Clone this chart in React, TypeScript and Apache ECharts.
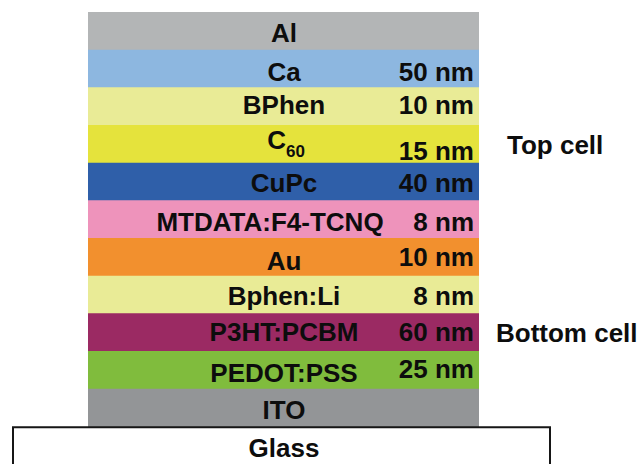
import React, { useEffect, useRef } from "react";
import * as echarts from "echarts";

// Layer stack, top to bottom
const layerNames = ["Al", "Ca", "BPhen", "C60", "CuPc", "MTDATA:F4-TCNQ", "Au", "Bphen:Li", "P3HT:PCBM", "PEDOT:PSS", "ITO", "Glass"];
const thicknessLabels = ["", "50 nm", "10 nm", "15 nm", "40 nm", "8 nm", "10 nm", "8 nm", "60 nm", "25 nm", "", ""];
const cellLabels = ["", "", "", "Top cell", "", "", "", "", "Bottom cell", "", "", ""];
const layerColors = ["#b3b5b6", "#8db7e0", "#e9eb96", "#e5e33c", "#2f5fa9", "#ee93bb", "#f2902e", "#e9eb96", "#9b2a63", "#80bc3d", "#939597", "#ffffff"];

// layout (style) constants
const STACK_LEFT = 88;
const STACK_RIGHT = 479;
const GLASS_LEFT = 13;
const GLASS_RIGHT = 550;
const NAME_CENTER = 284;
const THICK_RIGHT = 474;
const FS = 26;
const nameDx = [0, 0, 0, 2, 0, -14, 0, 0, 0, 0, 0, 0];
const nameDy = [2, 3, -1, -4, 1, 3, 4, 1, 0, 3, 2, 3];
const thickDy = [0, 3, -1, 7, 1, 3, 0, 1, 0, -1, 0, 0];
const cellX = [0, 0, 0, 507, 0, 0, 0, 0, 496, 0, 0, 0];

const FONT = "Liberation Sans, Arial, Helvetica, sans-serif";

export default function App() {
  const ref = useRef<HTMLDivElement>(null);
  useEffect(() => {
    document.body.style.margin = "0";
    const chart = echarts.init(ref.current!, null, { renderer: "svg" });
    const textStyle = { fontSize: FS, fontWeight: "bold", fontFamily: FONT, fill: "#0d0d0d" };
    const renderItem = (params: any, api: any) => {
      const i = api.value(1);
      const isGlass = i === layerNames.length - 1;
      const left = isGlass ? GLASS_LEFT : STACK_LEFT;
      const right = isGlass ? GLASS_RIGHT : STACK_RIGHT;
      const [xl, yc] = api.coord([left, i]);
      const [xr] = api.coord([right, i]);
      const h = api.size([0, 1])[1];
      const top = yc - h / 2;
      const children: any[] = [];
      children.push({
        type: "rect",
        shape: { x: xl, y: isGlass ? top + 1 : top, width: xr - xl, height: isGlass ? h + 12 : h + 0.6 },
        style: isGlass
          ? { fill: "#ffffff", stroke: "#161616", lineWidth: 2 }
          : { fill: layerColors[i] },
      });
      const [nx] = api.coord([NAME_CENTER + nameDx[i], i]);
      const name = layerNames[i];
      if (name === "C60") {
        children.push({
          type: "text",
          style: {
            text: "{n|C}{s|60}",
            x: nx,
            y: yc + nameDy[i],
            align: "center",
            verticalAlign: "middle",
            rich: {
              n: { fontSize: FS, fontWeight: "bold", fontFamily: FONT, fill: "#0d0d0d", lineHeight: 30 },
              s: { fontSize: 17, fontWeight: "bold", fontFamily: FONT, fill: "#0d0d0d", lineHeight: 30, padding: [24, 0, 0, 0] },
            },
          },
        });
      } else {
        children.push({
          type: "text",
          style: { ...textStyle, text: name, x: nx, y: yc + nameDy[i], align: "center", verticalAlign: "middle" },
        });
      }
      if (thicknessLabels[i]) {
        const [tx] = api.coord([THICK_RIGHT, i]);
        children.push({
          type: "text",
          style: { ...textStyle, text: thicknessLabels[i], x: tx, y: yc + thickDy[i], align: "right", verticalAlign: "middle" },
        });
      }
      if (cellLabels[i]) {
        const [cx] = api.coord([cellX[i], i]);
        children.push({
          type: "text",
          style: { ...textStyle, text: cellLabels[i], x: cx, y: yc + 1, align: "left", verticalAlign: "middle" },
        });
      }
      return { type: "group", children };
    };
    chart.setOption({
      animation: false,
      backgroundColor: "#ffffff",
      grid: { left: 0, right: 0, top: 12, bottom: -2, containLabel: false },
      xAxis: { type: "value", min: 0, max: 641, show: false },
      yAxis: { type: "category", data: layerNames, inverse: true, show: false },
      series: [
        {
          type: "custom",
          renderItem,
          clip: false,
          encode: { x: 0, y: 1 },
          data: layerNames.map((n, i) => [0, i]),
        },
      ],
    });
    return () => chart.dispose();
  }, []);
  return <div ref={ref} style={{ width: 641, height: 464 }} />;
}
